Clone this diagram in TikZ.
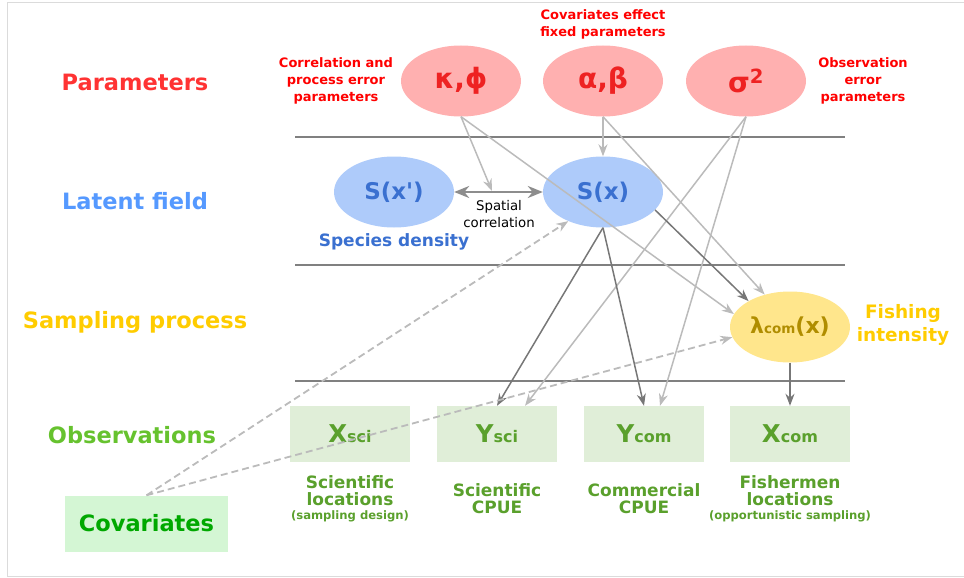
\documentclass[tikz,border=0pt]{standalone}
\usepackage{fontspec}
\setmainfont{DejaVu Sans}[Ligatures=TeXOff]
\usetikzlibrary{arrows.meta,calc,shapes.geometric}
\definecolor{pinkfill}{HTML}{FFB0B0}
\definecolor{partext}{HTML}{EE2222}
\definecolor{annred}{HTML}{FF0000}
\definecolor{parlab}{HTML}{FF3333}
\definecolor{bluefill}{HTML}{AECBFA}
\definecolor{bluetext}{HTML}{3A70D0}
\definecolor{bluelab}{HTML}{5599FF}
\definecolor{yelfill}{HTML}{FFE68C}
\definecolor{yeltext}{HTML}{B08D00}
\definecolor{yellab}{HTML}{FFCC00}
\definecolor{greenfill}{HTML}{E0EED8}
\definecolor{greentext}{HTML}{5AA02C}
\definecolor{greenlab}{HTML}{66C22E}
\definecolor{covfill}{HTML}{D4F6D4}
\definecolor{covtext}{HTML}{00A800}
\definecolor{lightar}{HTML}{BBBBBB}
\definecolor{darkar}{HTML}{777777}
\definecolor{hline}{HTML}{808080}
\begin{document}
\begin{tikzpicture}[x=1pt,y=-1pt,
  font=\bfseries,
  ell/.style={ellipse,minimum width=120pt,minimum height=71pt,inner sep=0pt},
  parell/.style={ell,fill=pinkfill,text=partext,font=\bfseries\fontsize{28}{30}\selectfont},
  latell/.style={ell,fill=bluefill,text=bluetext,font=\bfseries\fontsize{23}{28}\selectfont},
  samell/.style={ell,fill=yelfill,text=yeltext,font=\bfseries\fontsize{22}{26}\selectfont},
  obsbox/.style={rectangle,fill=greenfill,text=greentext,minimum width=120pt,minimum height=56pt,inner sep=0pt,font=\bfseries\fontsize{24.5}{28}\selectfont},
  seclab/.style={font=\bfseries\fontsize{22.5}{26}\selectfont},
  annot/.style={text=annred,align=center,font=\bfseries\fontsize{13}{17}\selectfont},
  obslab/.style={text=greentext,align=center,font=\bfseries\fontsize{17}{17}\selectfont},
  arlight/.style={draw=lightar,line width=1.5pt,-{Stealth[length=12pt,width=9pt]}},
  ardark/.style={draw=darkar,line width=1.5pt,-{Stealth[length=12pt,width=9pt]}},
  ardash/.style={draw=lightar,line width=1.8pt,dash pattern=on 7pt off 4pt,-{Stealth[length=12pt,width=9pt]}},
  sepline/.style={draw=hline,line width=1.2pt}
]
\useasboundingbox (0,0) rectangle (964,578);
\draw[draw=black!14,line width=1pt] (7,3) rectangle (975,576);
% separators
\draw[sepline] (295,137) -- (845,137);
\draw[sepline] (295,265) -- (845,265);
\draw[sepline] (295,381) -- (845,381);
% section labels
\node[seclab,text=parlab] (lpar) at (135,82) {Parameters};
\node[seclab,text=bluelab] (llat) at (135,201) {Latent field};
\node[seclab,text=yellab] (lsam) at (135,322) {Sampling process};
\node[seclab,text=greenlab] (lobs) at (132,435) {Observations};
% parameters
\node[parell] (kp) at (461,81) {κ,ϕ};
\node[parell] (ab) at (603,81) {α,β};
\node[parell] (sig) at (746,81) {σ\textsuperscript{2}};
\node[annot] (akp) at (336,81) {Correlation and\\process error\\parameters};
\node[annot] (aab) at (603,24) {Covariates effect\\fixed parameters};
\node[annot] (asig) at (863,81) {Observation\\error\\parameters};
% latent
\node[latell] (sxp) at (394,192) {S(x')};
\node[latell] (sx) at (603,192) {S(x)};
\node[text=bluetext,font=\bfseries\fontsize{17}{20}\selectfont] (spd) at (394,242) {Species density};
\node[align=center,font=\mdseries\fontsize{13.3}{17}\selectfont] (spc) at (499,214) {Spatial\\correlation};
\coordinate (spcor) at (492,191);
% sampling
\node[samell] (lam) at (790,327) {λ{\fontsize{13.5}{16}\selectfont com}(x)};
\node[text=yellab,align=center,font=\bfseries\fontsize{18.5}{23}\selectfont] (fint) at (903,325) {Fishing\\intensity};
% observations
\node[obsbox] (xsci) at (350,434) {X{\fontsize{16}{18}\selectfont sci}};
\node[obsbox] (ysci) at (497,434) {Y{\fontsize{16}{18}\selectfont sci}};
\node[obsbox] (ycom) at (644,434) {Y{\fontsize{16}{18}\selectfont com}};
\node[obsbox] (xcom) at (790,434) {X{\fontsize{16}{18}\selectfont com}};
\node[obslab] (lxsci) at (350,499) {Scientific\\locations\\[-3pt]{\fontsize{11.6}{13}\selectfont (sampling design)}};
\node[obslab] (lysci) at (497,499) {Scientific\\CPUE};
\node[obslab] (lycom) at (644,499) {Commercial\\CPUE};
\node[obslab] (lxcom) at (790,499) {Fishermen\\locations\\[-3pt]{\fontsize{11.6}{13}\selectfont (opportunistic sampling)}};
% covariates
\node[rectangle,fill=covfill,text=covtext,minimum width=163pt,minimum height=56pt,inner sep=0pt,font=\bfseries\fontsize{22.5}{26}\selectfont] (cov) at (146.5,523.5) {Covariates};
% connectors
\draw[draw=hline!90,line width=2.8pt,{Stealth[length=15pt,width=12pt]}-{Stealth[length=15pt,width=12pt]}] (sxp.east) -- (sx.west);
\draw[arlight] (kp.south) -- (spcor);
\draw[arlight] (kp.south) -- (lam.167);
\draw[arlight] (ab.south) -- (sx.north);
\draw[arlight] (ab.south) -- (lam.128);
\draw[arlight] (sig.south) -- ([xshift=28pt]ysci.north);
\draw[arlight] (sig.south) -- ([xshift=16pt]ycom.north);
\draw[ardark] (sx.south) -- (ysci.north);
\draw[ardark] (sx.south) -- (ycom.north);
\draw[ardark] (sx.-19) -- (lam.148);
\draw[ardark] (lam.south) -- (xcom.north);
\draw[ardash] (cov.north) -- (sx.220);
\draw[ardash] (cov.north) -- (lam.190);
\end{tikzpicture}
\end{document}
